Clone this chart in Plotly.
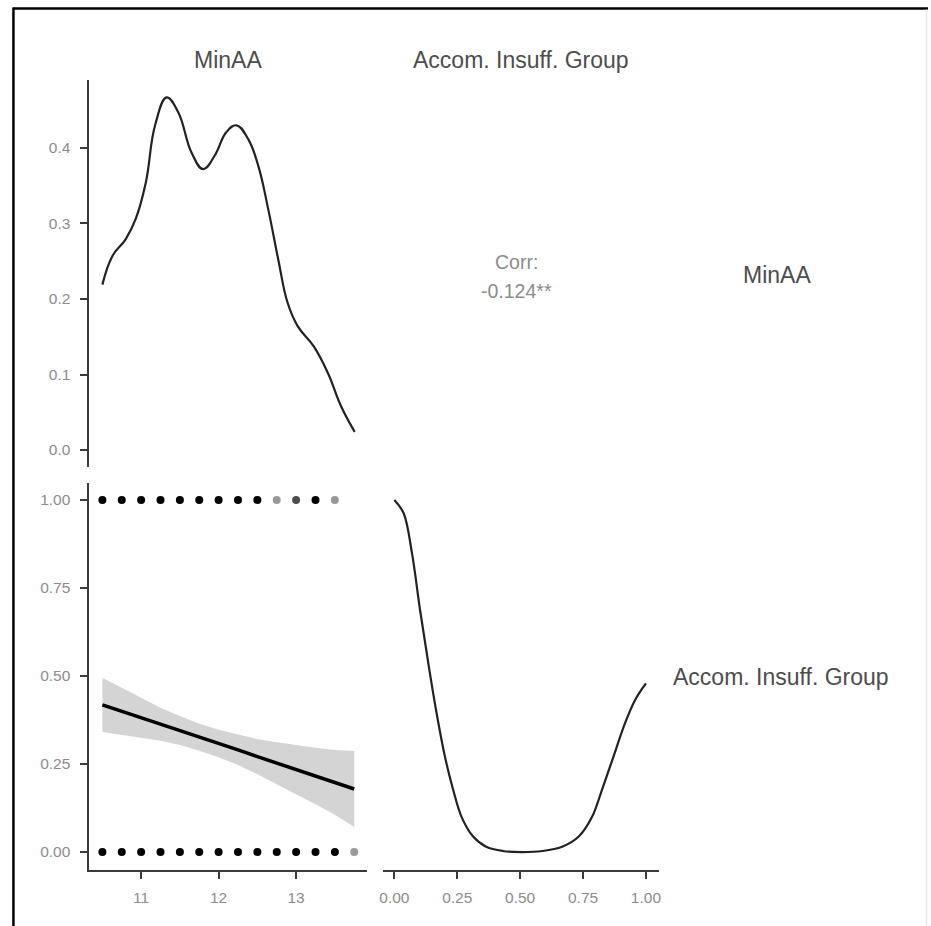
import plotly.graph_objects as go

# ---------------- data ----------------
# MinAA density (diagonal, top-left)
minaa_x = [10.50, 10.63, 10.80, 10.93, 11.06, 11.18, 11.33, 11.48, 11.65, 11.80,
           11.95, 12.10, 12.23, 12.38, 12.51, 12.64, 12.77, 12.89, 13.02, 13.23,
           13.41, 13.58, 13.756]
minaa_density = [0.219, 0.257, 0.279, 0.306, 0.354, 0.430, 0.467, 0.447, 0.394, 0.372,
                 0.390, 0.421, 0.430, 0.412, 0.377, 0.319, 0.252, 0.195, 0.164, 0.137,
                 0.102, 0.058, 0.024]

# Scatter points (MinAA vs group), with number of overlapping observations
pts_x_group1 = [10.5, 10.75, 11.0, 11.25, 11.5, 11.75, 12.0, 12.25, 12.5, 12.75, 13.0, 13.25, 13.5]
pts_n_group1 = [3, 3, 3, 3, 3, 3, 3, 3, 3, 1, 2, 3, 1]
pts_x_group0 = [10.5, 10.75, 11.0, 11.25, 11.5, 11.75, 12.0, 12.25, 12.5, 12.75, 13.0, 13.25, 13.5, 13.75]
pts_n_group0 = [3, 3, 3, 3, 3, 3, 3, 3, 3, 3, 3, 3, 3, 1]

# Linear fit with confidence band
fit_x = [10.5, 10.75, 11.0, 11.25, 11.5, 11.75, 12.0, 12.25, 12.5, 12.75, 13.0, 13.25, 13.5, 13.75]
fit_y = [0.418, 0.400, 0.381, 0.363, 0.345, 0.326, 0.308, 0.290, 0.271, 0.253, 0.234, 0.216, 0.198, 0.179]
fit_upper = [0.495, 0.466, 0.437, 0.410, 0.386, 0.364, 0.347, 0.333, 0.321, 0.312, 0.303, 0.296, 0.290, 0.287]
fit_lower = [0.341, 0.334, 0.325, 0.316, 0.304, 0.288, 0.269, 0.247, 0.221, 0.194, 0.165, 0.136, 0.106, 0.071]

# Group density (diagonal, bottom-right), scaled to panel
grp_x = [0.0, 0.037, 0.070, 0.102, 0.135, 0.168, 0.201, 0.234, 0.267, 0.313, 0.365, 0.431,
         0.503, 0.589, 0.667, 0.733, 0.786, 0.825, 0.871, 0.917, 0.957, 1.0]
grp_density = [1.0, 0.962, 0.849, 0.688, 0.536, 0.394, 0.271, 0.176, 0.100, 0.044, 0.015, 0.003,
               0.0, 0.003, 0.015, 0.044, 0.100, 0.176, 0.271, 0.366, 0.432, 0.479]

var_labels = ["MinAA", "Accom. Insuff. Group"]
corr_text = ["Corr:", "-0.124**"]
minaa_ticks = [11, 12, 13]
dens_ticks = [0.0, 0.1, 0.2, 0.3, 0.4]
grp_ticks = [0.0, 0.25, 0.5, 0.75, 1.0]

# ---------------- layout helpers ----------------
W, H = 931, 926
def fx(px):
    return px / W
def fy(py):
    return 1 - py / H

FONT = "Liberation Sans"
TICK_FONT = dict(family=FONT, size=15.5, color="#8c8c8c")
AX = dict(showgrid=False, zeroline=False, linecolor="#3a3a3a", linewidth=2,
          ticks="outside", ticklen=7, tickwidth=2, tickcolor="#3a3a3a",
          tickfont=TICK_FONT, fixedrange=True)

def alpha(n):
    return {1: 0.4, 2: 0.7}.get(n, 1.0)

fig = go.Figure()

# top-left density
fig.add_trace(go.Scatter(x=minaa_x, y=minaa_density, mode="lines",
                         line=dict(color="#222222", width=2.2, shape="spline", smoothing=1.2),
                         xaxis="x", yaxis="y", showlegend=False, hoverinfo="skip"))

# bottom-left: band
fig.add_trace(go.Scatter(x=fit_x + fit_x[::-1], y=fit_upper + fit_lower[::-1],
                         mode="lines", fill="toself", fillcolor="#d4d4d4",
                         line=dict(width=0), xaxis="x2", yaxis="y2",
                         showlegend=False, hoverinfo="skip"))
fig.add_trace(go.Scatter(x=fit_x, y=fit_y, mode="lines",
                         line=dict(color="#000000", width=3.5),
                         xaxis="x2", yaxis="y2", showlegend=False))
fig.add_trace(go.Scatter(x=pts_x_group1, y=[1.0] * len(pts_x_group1), mode="markers",
                         marker=dict(color="black", size=8,
                                     opacity=[alpha(n) for n in pts_n_group1]),
                         xaxis="x2", yaxis="y2", showlegend=False))
fig.add_trace(go.Scatter(x=pts_x_group0, y=[0.0] * len(pts_x_group0), mode="markers",
                         marker=dict(color="black", size=8,
                                     opacity=[alpha(n) for n in pts_n_group0]),
                         xaxis="x2", yaxis="y2", showlegend=False))

# bottom-right density
fig.add_trace(go.Scatter(x=grp_x, y=grp_density, mode="lines",
                         line=dict(color="#222222", width=2.2, shape="spline", smoothing=1.0),
                         xaxis="x3", yaxis="y3", showlegend=False, hoverinfo="skip"))

fig.update_layout(
    width=W, height=H, margin=dict(l=0, r=0, t=0, b=0),
    paper_bgcolor="white", plot_bgcolor="white",
    xaxis=dict(domain=[fx(87), fx(366)], range=[10.333, 13.91], anchor="y",
               visible=False, fixedrange=True),
    yaxis=dict(AX, domain=[fy(467), fy(80)], range=[-0.0225, 0.49], anchor="x",
               showline=True, tickvals=dens_ticks, tickformat=".1f", ticklabelstandoff=7),
    xaxis2=dict(AX, domain=[fx(87), fx(366)], range=[10.333, 13.91], anchor="y2",
                showline=True, tickvals=minaa_ticks, ticklabelstandoff=5),
    yaxis2=dict(AX, domain=[fy(870), fy(483)], range=[-0.051, 1.048], anchor="x2",
                showline=True, tickvals=grp_ticks, tickformat=".2f", ticklabelstandoff=7),
    xaxis3=dict(AX, domain=[fx(382), fx(660)], range=[-0.047, 1.051], anchor="y3",
                showline=True, tickvals=grp_ticks, tickformat=".2f", ticklabelstandoff=5),
    yaxis3=dict(domain=[fy(870), fy(483)], range=[-0.051, 1.048], anchor="x3",
                visible=False, fixedrange=True),
)

LABEL_FONT = dict(family=FONT, size=23, color="#4d4d4d")
CORR_FONT = dict(family=FONT, size=19.5, color="#8c8c8c")
ann = [
    dict(text=var_labels[0], x=fx(226), y=fy(60), font=LABEL_FONT),
    dict(text=var_labels[1], x=fx(521), y=fy(60), font=LABEL_FONT),
    dict(text=var_labels[0], x=fx(779), y=fy(275), font=LABEL_FONT),
    dict(text=var_labels[1], x=fx(783), y=fy(677), font=LABEL_FONT),
    dict(text=corr_text[0], x=fx(517), y=fy(262), font=CORR_FONT),
    dict(text=corr_text[1], x=fx(517), y=fy(291), font=CORR_FONT),
]
for a in ann:
    a.update(xref="paper", yref="paper", showarrow=False, xanchor="center", yanchor="middle")
fig.update_layout(annotations=ann)

# outer frame (black at top/left, faint at right)
fig.update_layout(shapes=[
    dict(type="line", xref="paper", yref="paper", x0=fx(10.5), x1=fx(10.5), y0=0, y1=fy(7.5),
         line=dict(color="black", width=2.5)),
    dict(type="line", xref="paper", yref="paper", x0=fx(10.5), x1=1, y0=fy(8.5), y1=fy(8.5),
         line=dict(color="black", width=2.5)),
    dict(type="line", xref="paper", yref="paper", x0=fx(929.5), x1=fx(929.5), y0=0, y1=fy(9.5),
         line=dict(color="#e8e8e8", width=1.5)),
])

fig.write_html("out.html", config={"displayModeBar": False},
               post_script="document.body.style.margin='0';document.body.style.overflow='hidden';")
